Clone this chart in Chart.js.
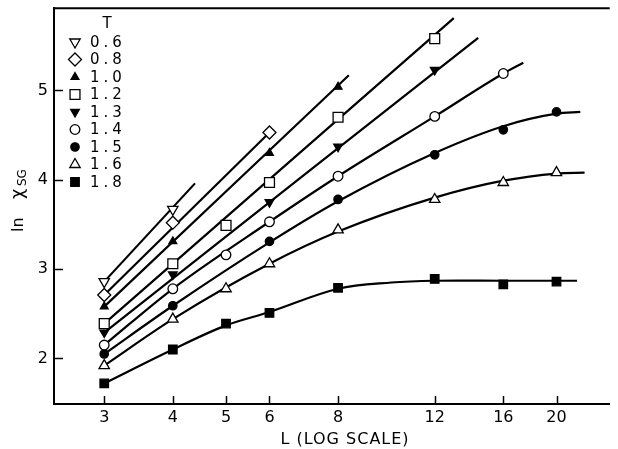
<!DOCTYPE html>
<html>
<head>
<meta charset="utf-8">
<script src="https://cdn.jsdelivr.net/npm/chart.js@4.4.1/dist/chart.umd.min.js"></script>
<style>
  html, body { margin: 0; padding: 0; background: #fff; }
  #wrap { width: 618px; height: 449px; }
</style>
</head>
<body>
<div id="wrap"><canvas id="chart"></canvas></div>
<script>
// ---- data ----
const lTicks = [3, 4, 5, 6, 8, 12, 16, 20];
const yTicks = [2, 3, 4, 5];
const tLabels = ['0.6', '0.8', '1.0', '1.2', '1.3', '1.4', '1.5', '1.6', '1.8'];

// measured ln chi_SG at L = 3,4,5,6,8,12,16,20 (null = no point)
const pts06 = [2.86, 3.67, null, null, null, null, null, null];
const pts08 = [2.71, 3.52, null, 4.53, null, null, null, null];
const pts10 = [2.58, 3.31, null, 4.30, 5.04, null, null, null];
const pts12 = [2.39, 3.06, 3.49, 3.97, 4.70, 5.58, null, null];
const pts13 = [2.29, 2.94, null, 3.75, 4.37, 5.23, null, null];
const pts14 = [2.15, 2.78, 3.16, 3.53, 4.04, 4.71, 5.19, null];
const pts15 = [2.05, 2.59, null, 3.31, 3.78, 4.28, 4.56, 4.76];
const pts16 = [1.92, 2.44, 2.78, 3.06, 3.44, 3.78, 3.97, 4.08];
const pts18 = [1.72, 2.10, 2.39, 2.51, 2.79, 2.89, 2.83, 2.86];

// drawn curves (L positions and ln chi_SG along each curve)
const fit06L = [3, 4.39],  fit06Y = [2.86, 3.96];
const fit08L = [3, 6],     fit08Y = [2.71, 4.53];
const fit10L = [3, 8.37],  fit10Y = [2.58, 5.17];
const fit12L = [3, 13.0],  fit12Y = [2.39, 5.81];
const fit13L = [3, 14.4],  fit13Y = [2.29, 5.59];
const fit14L = [3, 4, 6, 8, 12, 16, 17.4],            fit14Y = [2.15, 2.78, 3.53, 4.04, 4.71, 5.19, 5.31];
const fit15L = [3, 4, 6, 8, 12, 16, 20, 22.1],        fit15Y = [2.05, 2.59, 3.30, 3.76, 4.30, 4.60, 4.74, 4.76];
const fit16L = [3, 4, 6, 8, 12, 16, 20, 22.5],        fit16Y = [1.92, 2.44, 3.06, 3.42, 3.80, 3.99, 4.07, 4.08];
const fit18L = [3, 4, 5, 6, 8, 10, 12, 16, 21.8],     fit18Y = [1.72, 2.10, 2.37, 2.52, 2.78, 2.85, 2.87, 2.87, 2.87];

const pointSets = [pts06, pts08, pts10, pts12, pts13, pts14, pts15, pts16, pts18];
const fitSets = [
  [fit06L, fit06Y], [fit08L, fit08Y], [fit10L, fit10Y], [fit12L, fit12Y], [fit13L, fit13Y],
  [fit14L, fit14Y], [fit15L, fit15Y], [fit16L, fit16Y], [fit18L, fit18Y]
];

// marker look for each T
const markers = [
  { style: 'triangle', rot: 180, r: 6,   fill: '#fff' },
  { style: 'rectRot',  rot: 0,   r: 6.5, fill: '#fff' },
  { style: 'triangle', rot: 0,   r: 4.5, fill: '#000' },
  { style: 'rect',     rot: 0,   r: 7,   fill: '#fff' },
  { style: 'triangle', rot: 180, r: 5,   fill: '#000' },
  { style: 'circle',   rot: 0,   r: 4.8, fill: '#fff' },
  { style: 'circle',   rot: 0,   r: 4.2, fill: '#000' },
  { style: 'triangle', rot: 0,   r: 6,   fill: '#fff' },
  { style: 'rect',     rot: 0,   r: 6,   fill: '#000' }
];

const FONT = 'DejaVu Sans';

const datasets = [];
fitSets.forEach(([xs, ys], i) => {
  const plateau = i === fitSets.length - 1;
  datasets.push({
    label: 'fit ' + tLabels[i],
    data: xs.map((x, j) => ({ x: x, y: ys[j] })),
    showLine: true,
    borderColor: '#000',
    borderWidth: 2.2,
    pointRadius: 0,
    // the flat 1.8 curve looks better with a plain spline
    cubicInterpolationMode: plateau ? 'default' : 'monotone',
    tension: plateau ? 0.35 : 0,
    order: 2
  });
});
pointSets.forEach((vals, i) => {
  const m = markers[i];
  datasets.push({
    label: tLabels[i],
    data: lTicks.map((x, j) => ({ x: x, y: vals[j] })).filter(p => p.y !== null),
    showLine: false,
    pointStyle: m.style,
    pointRotation: m.rot,
    pointRadius: m.r,
    backgroundColor: m.fill,
    borderColor: '#000',
    borderWidth: 1.3,
    order: 1
  });
});

// frame top line, inward ticks, legend and axis titles
const decorations = {
  id: 'decorations',
  afterDraw(chart) {
    const { ctx, chartArea: a, scales: { x, y } } = chart;
    ctx.save();
    ctx.globalAlpha = 1;
    ctx.strokeStyle = '#000';
    ctx.lineWidth = 2;
    ctx.beginPath();
    ctx.moveTo(a.left, a.top);
    ctx.lineTo(a.right, a.top);
    ctx.stroke();

    ctx.lineWidth = 1.5;
    x.ticks.forEach(t => {
      const px = Math.round(x.getPixelForValue(t.value)) + 0.5;
      ctx.beginPath();
      ctx.moveTo(px, a.bottom);
      ctx.lineTo(px, a.bottom - 8);
      ctx.stroke();
    });
    y.ticks.forEach(t => {
      const py = Math.round(y.getPixelForValue(t.value)) + 0.5;
      ctx.beginPath();
      ctx.moveTo(a.left, py);
      ctx.lineTo(a.left + 9, py);
      ctx.stroke();
    });

    // legend
    ctx.textBaseline = 'middle';
    ctx.textAlign = 'left';
    ctx.font = '15px "' + FONT + '"';
    tLabels.forEach((lab, i) => {
      const ly = 42 + i * 17.5;
      const m = markers[i];
      ctx.fillStyle = m.fill;
      ctx.strokeStyle = '#000';
      ctx.lineWidth = 1.3;
      Chart.helpers.drawPoint(ctx, { pointStyle: m.style, rotation: m.rot, radius: m.r, borderWidth: 1.3 }, 75, ly);
      ctx.fillStyle = '#000';
      ctx.letterSpacing = '4px';
      ctx.fillText(lab, 90, ly + 1);
      ctx.letterSpacing = '0px';
    });
    ctx.fillStyle = '#000';
    ctx.textAlign = 'center';
    ctx.fillText('T', 107, 24);

    // x title
    ctx.font = '16px "' + FONT + '"';
    ctx.letterSpacing = '1px';
    ctx.fillText('L (LOG SCALE)', 345, 440);
    ctx.letterSpacing = '0px';

    // y title: ln chi_SG, rotated
    ctx.translate(23, 232);
    ctx.rotate(-Math.PI / 2);
    ctx.textAlign = 'left';
    ctx.textBaseline = 'alphabetic';
    ctx.font = '16px "' + FONT + '"';
    ctx.fillText('ln', 0, 0);
    ctx.font = '18px "' + FONT + '"';
    ctx.fillText('χ', 33, 0);
    ctx.font = '12px "' + FONT + '"';
    ctx.fillText('SG', 46, 3);
    ctx.restore();
  }
};

new Chart(document.getElementById('chart'), {
  type: 'scatter',
  data: { datasets: datasets },
  options: {
    responsive: true,
    maintainAspectRatio: false,
    animation: false,
    layout: { padding: { top: 7, right: 0, left: 0, bottom: 0 } },
    plugins: { legend: { display: false }, tooltip: { enabled: false } },
    scales: {
      x: {
        type: 'logarithmic',
        min: 2.43,
        max: 25,
        afterBuildTicks: scale => { scale.ticks = lTicks.map(v => ({ value: v })); },
        afterFit: scale => {
          scale.height = 45;
          scale.paddingLeft = 0;
          scale.paddingRight = 0;
        },
        grid: { display: false, drawTicks: false },
        border: { display: true, color: '#000', width: 2 },
        ticks: {
          padding: 4,
          color: '#000',
          font: { family: FONT, size: 16 },
          callback: v => String(v)
        }
      },
      y: {
        type: 'linear',
        min: 1.49,
        max: 5.92,
        afterBuildTicks: scale => { scale.ticks = yTicks.map(v => ({ value: v })); },
        afterFit: scale => {
          scale.width = 54;
          scale.paddingTop = 0;
          scale.paddingBottom = 0;
        },
        grid: { display: false, drawTicks: false },
        border: { display: true, color: '#000', width: 2 },
        ticks: {
          padding: 6,
          color: '#000',
          font: { family: FONT, size: 16 },
          callback: v => String(v)
        }
      }
    }
  },
  plugins: [decorations]
});
</script>
</body>
</html>
